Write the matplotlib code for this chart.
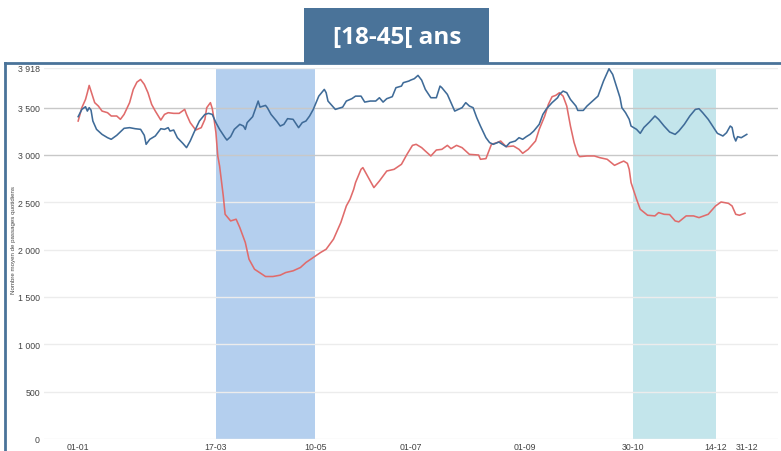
import matplotlib
matplotlib.use("Agg")
import matplotlib.pyplot as plt
import matplotlib.patches as mpatches
import matplotlib.lines as mlines
import pandas as pd

# ---------------- data ----------------
annee = "2021-01-01"
jours_bleu = [0, 2, 4, 5, 6, 7, 8, 10, 13, 16, 18, 21, 25, 28, 31, 34, 36, 37, 39, 42, 45, 47, 49, 50,
              52, 54, 57, 59, 61, 63, 66, 69, 71, 73, 75, 77, 80, 81, 83, 85, 88, 90, 91, 92, 95, 97,
              98, 99, 102, 103, 105, 108, 110, 112, 114, 117, 120, 122, 124, 126, 128, 131, 134, 135,
              136, 140, 144, 146, 149, 151, 154, 156, 159, 162, 164, 166, 168, 171, 173, 176, 177, 180,
              181, 183, 185, 187, 189, 192, 195, 197, 198, 201, 203, 205, 207, 209, 211, 213, 215, 217,
              219, 222, 224, 226, 229, 231, 233, 235, 238, 240, 242, 244, 246, 248, 251, 253, 255, 258,
              261, 262, 264, 266, 268, 271, 272, 275, 277, 280, 283, 284, 286, 288, 289, 291, 293, 295,
              296, 298, 300, 301, 304, 306, 308, 311, 314, 316, 319, 322, 325, 327, 330, 333, 336, 338,
              340, 343, 346, 348, 351, 353, 355, 356, 357, 358, 359, 361, 364]
valeurs_bleu = [3404, 3481, 3509, 3463, 3499, 3473, 3358, 3270, 3217, 3182, 3165, 3207, 3281, 3288, 3277,
                3270, 3207, 3112, 3165, 3200, 3277, 3270, 3288, 3252, 3263, 3182, 3122, 3077, 3147, 3235,
                3358, 3428, 3439, 3428, 3341, 3270, 3182, 3157, 3193, 3270, 3323, 3305, 3270, 3341, 3404,
                3516, 3569, 3505, 3523, 3499, 3428, 3358, 3305, 3323, 3383, 3376, 3288, 3341, 3358, 3411,
                3481, 3621, 3692, 3657, 3569, 3481, 3505, 3569, 3594, 3621, 3621, 3558, 3569, 3569, 3604,
                3558, 3594, 3615, 3710, 3727, 3763, 3780, 3790, 3805, 3840, 3790, 3692, 3604, 3604, 3727,
                3710, 3639, 3552, 3463, 3481, 3499, 3552, 3516, 3499, 3393, 3305, 3182, 3130, 3112, 3136,
                3112, 3087, 3130, 3147, 3182, 3165, 3193, 3217, 3252, 3323, 3428, 3488, 3552, 3604, 3639,
                3674, 3657, 3586, 3516, 3470, 3470, 3516, 3569, 3621, 3674, 3780, 3868, 3910, 3850, 3727,
                3604, 3499, 3446, 3376, 3305, 3270, 3228, 3290, 3347, 3411, 3376, 3305, 3242, 3217, 3252,
                3323, 3411, 3481, 3488, 3446, 3376, 3288, 3228, 3200, 3235, 3305, 3290, 3193, 3147, 3193,
                3182, 3217]

jours_rouge = [0, 2, 4, 5, 6, 7, 9, 11, 13, 16, 18, 21, 23, 25, 28, 30, 32, 34, 36, 38, 40, 42, 45, 47,
               49, 52, 55, 58, 59, 61, 64, 67, 69, 70, 72, 73, 74, 75, 76, 77, 79, 80, 83, 86, 88, 91,
               93, 96, 100, 102, 106, 110, 113, 117, 121, 124, 128, 132, 135, 139, 143, 146, 148, 150,
               151, 154, 155, 157, 161, 164, 168, 172, 176, 179, 182, 184, 187, 189, 192, 195, 198, 201,
               203, 206, 209, 213, 218, 219, 222, 225, 228, 230, 233, 237, 240, 242, 245, 249, 251, 254,
               256, 258, 260, 262, 264, 266, 268, 270, 272, 273, 277, 281, 284, 288, 292, 295, 297, 299,
               300, 301, 304, 306, 310, 314, 316, 319, 322, 325, 327, 331, 335, 338, 343, 347, 350, 354,
               356, 358, 360, 363]
valeurs_rouge = [3358, 3499, 3586, 3657, 3734, 3674, 3552, 3516, 3463, 3446, 3411, 3411, 3376, 3428, 3552,
                 3692, 3769, 3797, 3745, 3657, 3534, 3463, 3368, 3428, 3446, 3439, 3439, 3481, 3428, 3341,
                 3263, 3288, 3376, 3499, 3552, 3490, 3376, 3235, 2989, 2883, 2567, 2373, 2303, 2321, 2233,
                 2075, 1899, 1793, 1741, 1716, 1716, 1730, 1758, 1776, 1811, 1864, 1917, 1970, 2004, 2110,
                 2286, 2461, 2532, 2637, 2708, 2848, 2866, 2795, 2655, 2725, 2830, 2848, 2901, 3006, 3101,
                 3112, 3077, 3041, 2989, 3052, 3059, 3101, 3066, 3101, 3077, 3006, 2999, 2954, 2961, 3112,
                 3130, 3147, 3087, 3094, 3059, 3017, 3059, 3147, 3270, 3411, 3534, 3615, 3629, 3657, 3621,
                 3516, 3305, 3130, 3006, 2982, 2989, 2989, 2971, 2954, 2890, 2918, 2935, 2911, 2848, 2708,
                 2532, 2426, 2363, 2356, 2391, 2373, 2370, 2303, 2293, 2356, 2356, 2338, 2373, 2461, 2503,
                 2489, 2461, 2373, 2363, 2384]

periodes = [("2021-03-17", "2021-05-10"), ("2021-10-30", "2021-12-14")]
couleurs_periodes = ["#b4cfee", "#c3e5eb"]

ticks_dates = ["2021-01-01", "2021-03-17", "2021-05-10", "2021-07-01", "2021-09-01",
               "2021-10-30", "2021-12-14", "2021-12-31"]
ticks_labels = ["01-01", "17-03", "10-05", "01-07", "01-09", "30-10", "14-12", "31-12"]
yticks = [0, 500, 1000, 1500, 2000, 2500, 3000, 3500, 3918]
ylabels = ["0", "500", "1 000", "1 500", "2 000", "2 500", "3 000", "3 500", "3 918"]

titre = "[18-45[ ans"
ylabel = "Nombre moyen de passages quotidiens"

# ---------------- plot ----------------
W, H = 781, 452
fig = plt.figure(figsize=(W / 100, H / 100), dpi=100)
fig.patch.set_facecolor("white")

def fx(px):
    return px / W

def fy(py):
    return 1 - py / H

ax = fig.add_axes([fx(44), fy(440), fx(778) - fx(44), fy(69) - fy(440)])

t0 = pd.Timestamp(annee)
xb = [t0 + pd.Timedelta(days=d) for d in jours_bleu]
xr = [t0 + pd.Timedelta(days=d) for d in jours_rouge]

for (d1, d2), c in zip(periodes, couleurs_periodes):
    ax.axvspan(pd.Timestamp(d1), pd.Timestamp(d2), color=c, lw=0, zorder=1)

ax.plot(xr, valeurs_rouge, color="#e06b6b", lw=1.15, zorder=3)
ax.plot(xb, valeurs_bleu, color="#3f6b98", lw=1.15, zorder=4)

ax.set_xlim(t0 - pd.Timedelta(days=18.6), t0 + pd.Timedelta(days=381))
ax.set_ylim(0, 3918)
ax.set_yticks(yticks)
ax.set_yticklabels(ylabels, family="Liberation Sans")
ax.set_xticks([pd.Timestamp(d) for d in ticks_dates])
ax.set_xticklabels(ticks_labels, family="Liberation Sans")
ax.tick_params(axis="both", length=0, labelsize=6.3, labelcolor="#444444")
ax.tick_params(axis="x", pad=2)
ax.tick_params(axis="y", pad=3)
for s in ax.spines.values():
    s.set_visible(False)
ax.set_facecolor("none")

for yv in yticks:
    col = "#c8c8c8" if yv in (3000, 3500) else "#ececec"
    ax.axhline(yv, color=col, lw=1, zorder=2)

fig.text(fx(14), fy(240), ylabel, rotation=90, ha="center", va="center",
         fontsize=4.4, color="#444444", family="Liberation Sans")

# frame lines
fig.add_artist(mlines.Line2D([fx(5), fx(5)], [fy(64), 0], color="#4a7399", lw=2))
fig.add_artist(mlines.Line2D([fx(5), 1], [fy(64), fy(64)], color="#4a7399", lw=2))

# title box
fig.add_artist(mpatches.Rectangle((fx(304), fy(64)), fx(489) - fx(304), fy(9) - fy(64),
                                  transform=fig.transFigure, facecolor="#4a7399", edgecolor="none"))
fig.text(fx(397), fy(38), titre, ha="center", va="center", fontsize=17.5, fontweight="bold",
         color="white", family="Open Sans")

fig.savefig("out.png", dpi=100)
